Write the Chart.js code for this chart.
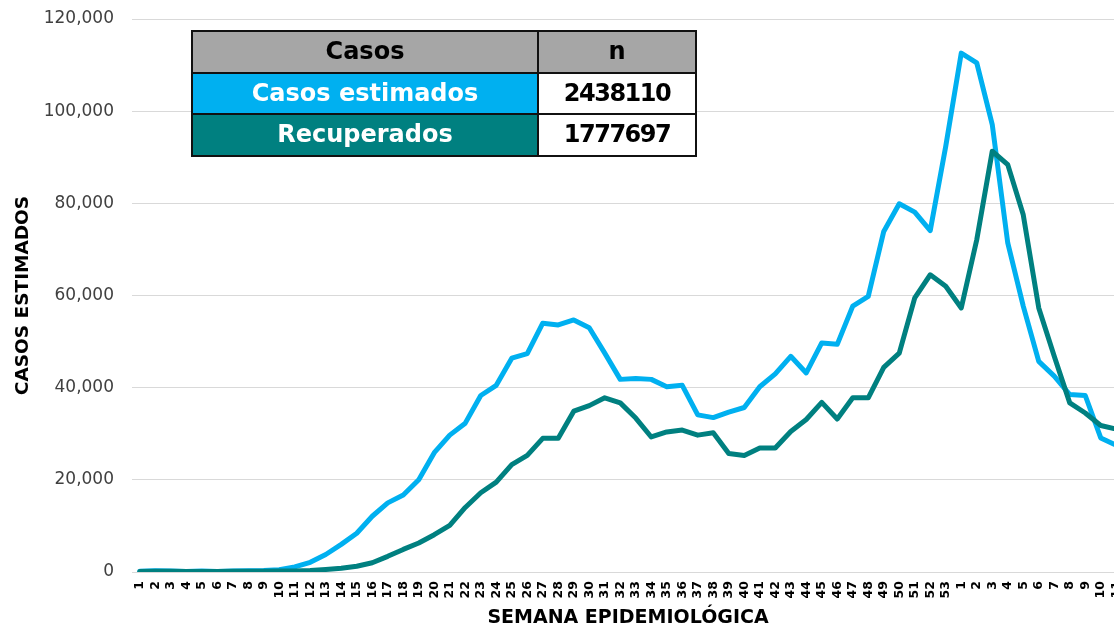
<!DOCTYPE html>
<html>
<head>
<meta charset="utf-8">
<script src="https://cdn.jsdelivr.net/npm/chart.js@4.4.1/dist/chart.umd.min.js"></script>
<style>
html,body{margin:0;padding:0;background:#fff;overflow:hidden;width:1114px;height:628px;}
#wrap{position:relative;width:1124px;height:628px;}
#c{display:block;width:1124px;height:628px;}
#legendTable{position:absolute;left:191px;top:30px;width:504px;border-collapse:collapse;table-layout:fixed;
  font-family:"DejaVu Sans",sans-serif;font-weight:bold;font-size:24px;}
#legendTable td{border:2px solid #111;padding:0;height:39.7px;text-align:center;vertical-align:middle;line-height:39.7px;white-space:nowrap;}
#legendTable td.num{letter-spacing:-1.5px;color:#000;background:#fff;}
</style>
</head>
<body>
<div id="wrap">
  <canvas id="c" width="1124" height="628"></canvas>
  <table id="legendTable"></table>
</div>
<script>
const weekLabels = ["1","2","3","4","5","6","7","8","9","10","11","12","13","14","15","16","17","18","19","20","21","22","23","24","25","26","27","28","29","30","31","32","33","34","35","36","37","38","39","40","41","42","43","44","45","46","47","48","49","50","51","52","53","1","2","3","4","5","6","7","8","9","10","11"];

const casosEstimados = [150,250,200,100,200,100,200,250,300,500,1100,2100,3800,6000,8400,12100,15000,16700,20000,25900,29700,32300,38300,40500,46400,47400,54000,53600,54700,53000,47500,41800,42000,41800,40200,40500,34100,33500,34700,35700,40200,43000,46800,43200,49700,49400,57700,59800,73900,79900,78100,74100,92400,112600,110500,97100,71400,57700,45700,42500,38500,38300,29100,27500];

const recuperados = [100,150,150,100,100,100,150,150,150,200,200,300,550,800,1250,2000,3400,4900,6300,8100,10100,14000,17200,19500,23300,25300,29000,29000,34900,36100,37800,36700,33400,29300,30400,30800,29700,30200,25700,25300,26900,26900,30500,33100,36800,33200,37800,37800,44400,47500,59500,64500,62000,57300,72100,91300,88400,77500,57300,46800,36700,34500,31800,31000];

const yTicks = [0,20000,40000,60000,80000,100000,120000];

const tableHeaders = ["Casos","n"];
const tableRowNames = ["Casos estimados","Recuperados"];
const tableRowValues = ["2438110","1777697"];
const seriesColors = ["#00B0F0","#008080"];

// build table
const tbl = document.getElementById('legendTable');
let html = '<colgroup><col style="width:346px"><col style="width:158px"></colgroup>';
html += '<tr><td style="background:#A6A6A6;color:#000">'+tableHeaders[0]+'</td><td style="background:#A6A6A6;color:#000">'+tableHeaders[1]+'</td></tr>';
for (let i=0;i<tableRowNames.length;i++){
  html += '<tr><td style="background:'+seriesColors[i]+';color:#fff">'+tableRowNames[i]+'</td><td class="num">'+tableRowValues[i]+'</td></tr>';
}
tbl.innerHTML = html;

const ctx = document.getElementById('c');
new Chart(ctx, {
  type: 'line',
  data: {
    labels: weekLabels,
    datasets: [
      {label: tableRowNames[0], data: casosEstimados, borderColor: seriesColors[0], backgroundColor: seriesColors[0],
       borderWidth: 5, pointRadius: 0, tension: 0, borderJoinStyle: 'round', borderCapStyle: 'round', order: 2},
      {label: tableRowNames[1], data: recuperados, borderColor: seriesColors[1], backgroundColor: seriesColors[1],
       borderWidth: 5, pointRadius: 0, tension: 0, borderJoinStyle: 'round', borderCapStyle: 'round', order: 1}
    ]
  },
  options: {
    responsive: false,
    animation: false,
    devicePixelRatio: 1,
    layout: {padding: {left: 6, top: 19, right: 0, bottom: 0}},
    plugins: {legend: {display: false}, tooltip: {enabled: false}},
    scales: {
      x: {
        offset: true,
        grid: {display: false, drawTicks: false},
        border: {display: false},
        ticks: {autoSkip: false, minRotation: 90, maxRotation: 90, padding: 9, color: '#000',
          font: {family: 'DejaVu Sans', weight: 'bold', size: 12.5}},
        title: {display: true, text: 'SEMANA EPIDEMIOLÓGICA', color: '#000', padding: {top: 0, bottom: 0},
          font: {family: 'DejaVu Sans', weight: 'bold', size: 19, lineHeight: 1}},
        afterFit: (s) => { s.height = 56; s.paddingLeft = 0; s.paddingRight = 0; }
      },
      y: {
        min: 0, max: 120000,
        afterBuildTicks: (s) => { s.ticks = yTicks.map(v => ({value: v})); },
        grid: {color: '#D9D9D9', lineWidth: 1, drawTicks: false},
        border: {display: false},
        ticks: {padding: 18, color: '#404040', font: {family: 'DejaVu Sans', size: 17},
          callback: (v) => v.toLocaleString('en-US')},
        title: {display: true, text: 'CASOS ESTIMADOS', color: '#000', padding: {top: 6, bottom: 0},
          font: {family: 'DejaVu Sans', weight: 'bold', size: 18.5, lineHeight: 1.2}},
        afterFit: (s) => { s.width = 126; s.paddingTop = 0; s.paddingBottom = 0; }
      }
    }
  }
});
</script>
</body>
</html>
